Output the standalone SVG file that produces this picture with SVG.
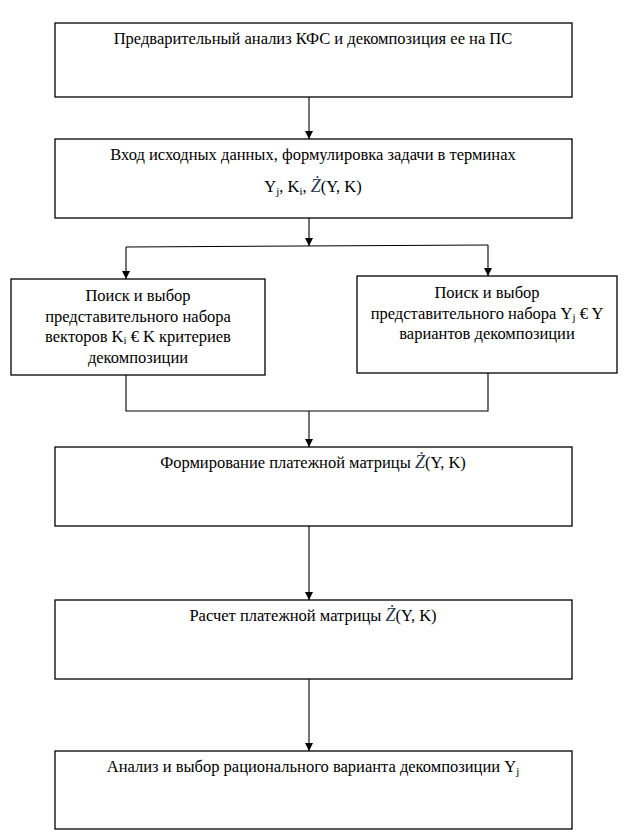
<svg xmlns="http://www.w3.org/2000/svg" width="634" height="839" viewBox="0 0 634 839">
<style>
  .box { fill: #ffffff; stroke: #000000; stroke-width: 1.3; }
  .lbl { font-family: 'Liberation Serif', 'Times New Roman', 'DejaVu Serif', serif; font-size: 16.5px; fill: #000000; text-anchor: middle; }
  .sub { font-size: 11px; }
  .z { font-style: italic; fill: #2b3a55; font-size: 18px; }
  .con { fill: none; stroke: #000000; stroke-width: 1.1; }
</style>
<defs>
  <marker id="arr" markerUnits="userSpaceOnUse" markerWidth="8" markerHeight="8" refX="8" refY="4" orient="auto">
    <path d="M0,0 L8,4 L0,8 z" fill="#000000"/>
  </marker>
</defs>
<rect width="634" height="839" fill="#ffffff"/>

<g id="connectors">
  <path class="con" d="M309,97 V139" marker-end="url(#arr)"/>
  <path class="con" d="M309,218 V246" marker-end="url(#arr)"/>
  <path class="con" d="M126,247 L488,245"/>
  <path class="con" d="M126,247 V279" marker-end="url(#arr)"/>
  <path class="con" d="M488,245 V276" marker-end="url(#arr)"/>
  <path class="con" d="M126,375 V411 H488 V373"/>
  <path class="con" d="M309,411 V447" marker-end="url(#arr)"/>
  <path class="con" d="M309,526 V600" marker-end="url(#arr)"/>
  <path class="con" d="M309,679 V751" marker-end="url(#arr)"/>
</g>

<g id="node1">
  <rect class="box" x="55" y="23" width="517" height="74"/>
  <text class="lbl" x="313" y="44">Предварительный анализ КФС и декомпозиция ее на ПС</text>
</g>

<g id="node2">
  <rect class="box" x="55" y="139" width="517" height="79"/>
  <text class="lbl" x="313" y="160">Вход исходных данных, формулировка задачи в терминах</text>
  <text class="lbl" x="313" y="192">Y<tspan class="sub" dy="3">j</tspan><tspan dy="-3">, K</tspan><tspan class="sub" dy="3">i</tspan><tspan dy="-3">, </tspan><tspan class="z">Ż</tspan>(Y, K)</text>
</g>

<g id="node3">
  <rect class="box" x="11" y="279" width="254" height="96"/>
  <text class="lbl" x="138" y="301">Поиск и выбор</text>
  <text class="lbl" x="138" y="321.5">представительного набора</text>
  <text class="lbl" x="138" y="342">векторов K<tspan class="sub" dy="2">i</tspan><tspan dy="-2"> € K критериев</tspan></text>
  <text class="lbl" x="138" y="362.5">декомпозиции</text>
</g>

<g id="node4">
  <rect class="box" x="357" y="276" width="260" height="97"/>
  <text class="lbl" x="487" y="298">Поиск и выбор</text>
  <text class="lbl" x="487" y="319">представительного набора Y<tspan class="sub" dy="2">j</tspan><tspan dy="-2"> € Y</tspan></text>
  <text class="lbl" x="487" y="339">вариантов декомпозиции</text>
</g>

<g id="node5">
  <rect class="box" x="55" y="447" width="517" height="79"/>
  <text class="lbl" x="313" y="468">Формирование платежной матрицы <tspan class="z">Ż</tspan>(Y, K)</text>
</g>

<g id="node6">
  <rect class="box" x="55" y="600" width="517" height="79"/>
  <text class="lbl" x="313" y="621">Расчет платежной матрицы <tspan class="z">Ż</tspan>(Y, K)</text>
</g>

<g id="node7">
  <rect class="box" x="55" y="751" width="517" height="78"/>
  <text class="lbl" x="313" y="772">Анализ и выбор рационального варианта декомпозиции Y<tspan class="sub" dy="3">j</tspan></text>
</g>
</svg>
